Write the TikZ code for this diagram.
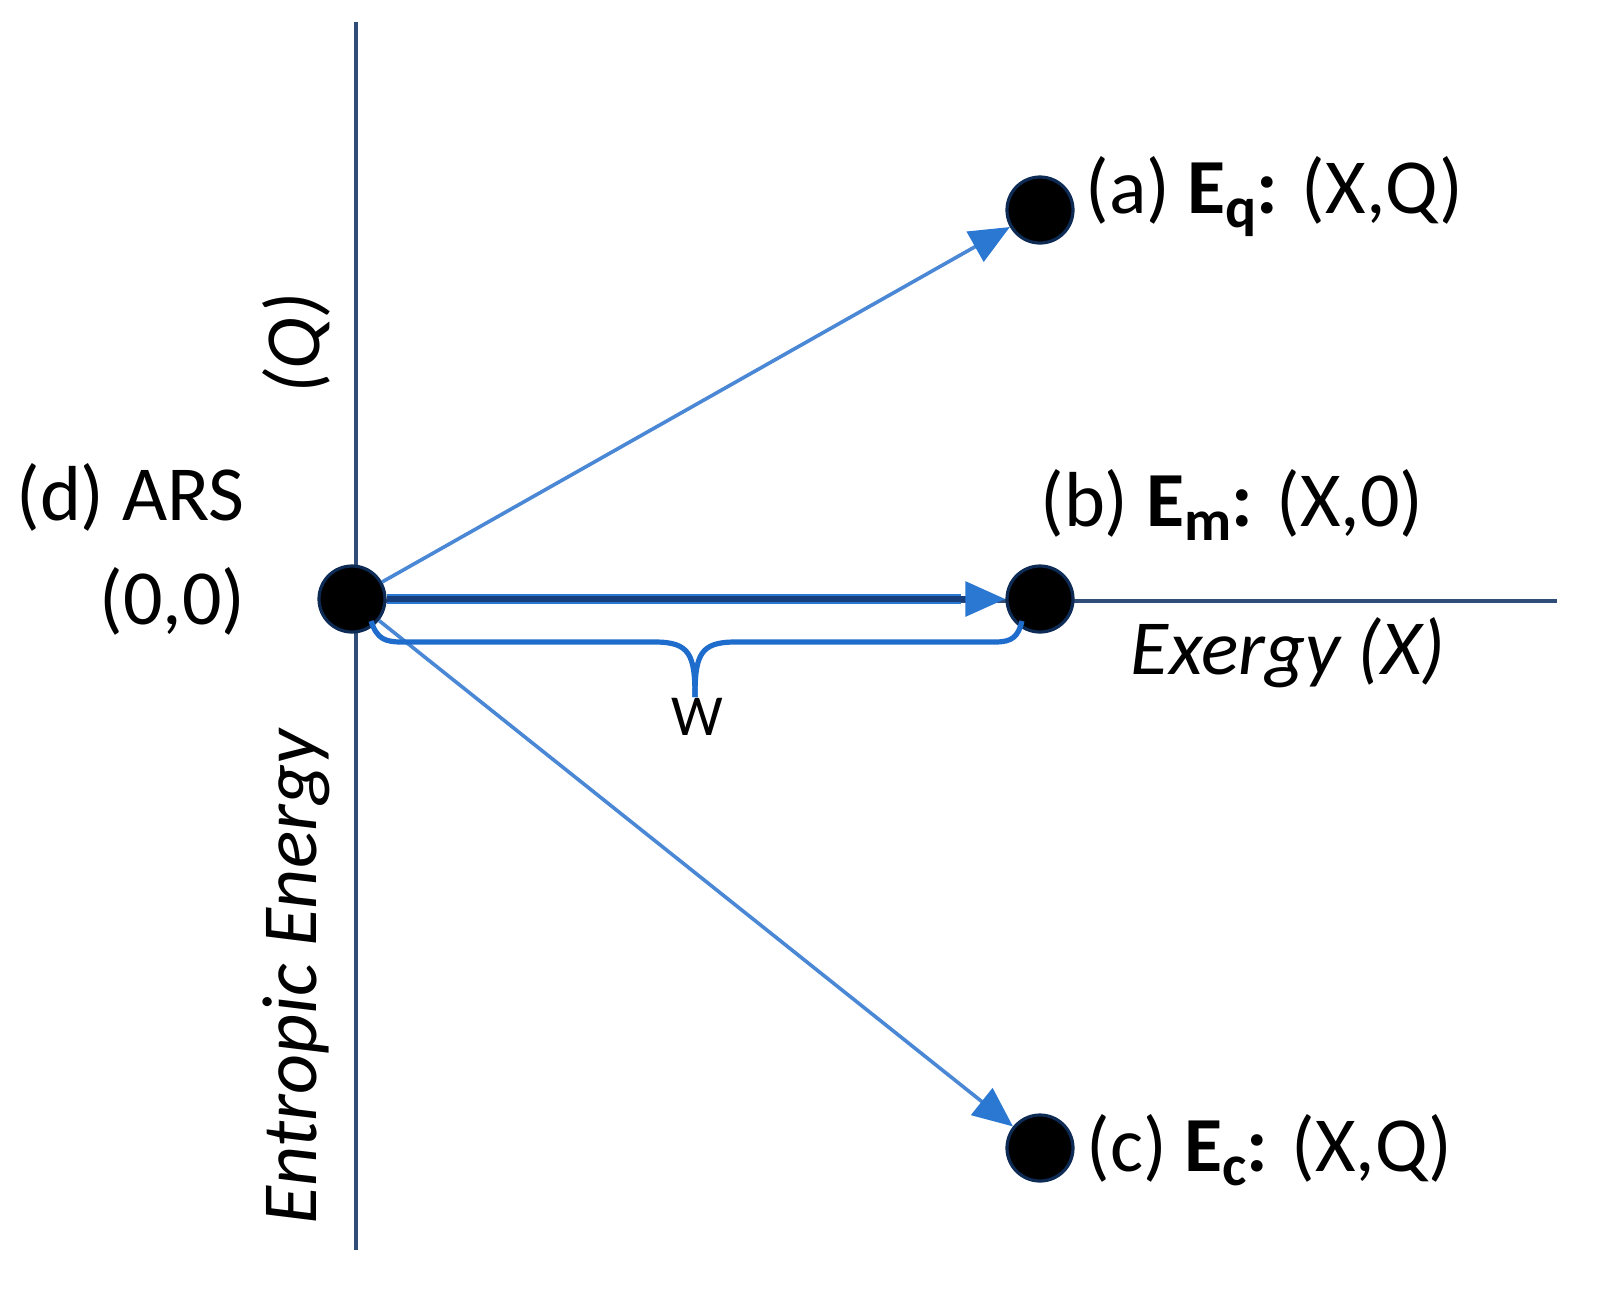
\documentclass[tikz,border=0pt]{standalone}
\usepackage{fontspec}
\setmainfont{Carlito}
\usetikzlibrary{arrows.meta}
\definecolor{axiscol}{HTML}{2F4D78}
\definecolor{arrcol}{HTML}{4A88D6}
\definecolor{headcol}{HTML}{2A78D2}
\definecolor{navy}{HTML}{163E7A}
\definecolor{bracecol}{HTML}{1E6CCB}
\definecolor{dotedge}{HTML}{0D2B55}
\newcommand{\Esub}[1]{\textbf{E}\raisebox{-0.18em}{\fontsize{29}{29}\selectfont\textbf{#1}}\textbf{:}}
\tikzset{
  axisline/.style={draw=axiscol, line width=1.7pt},
  dotnode/.style={circle, fill=black, draw=dotedge, line width=1.6pt, minimum size=33pt, inner sep=0pt},
  thinarrow/.style={draw=arrcol, line width=1.8pt, -{Triangle[length=20pt,width=17pt,color=headcol]}},
  thickarrowbg/.style={draw=headcol, line width=5pt},
  thickarrow/.style={draw=navy, line width=3pt, -{Triangle[length=20pt,width=17pt,color=headcol]}},
  bracestyle/.style={draw=bracecol, line width=2.6pt},
  lbl/.style={font=\fontsize{39}{46}\selectfont, text=black, inner sep=0pt},
  ilbl/.style={font=\fontsize{39}{46}\selectfont\itshape, text=black, inner sep=0pt},
  wlbl/.style={font=\fontsize{29}{32}\selectfont, text=black, inner sep=0pt}
}
\begin{document}
\begin{tikzpicture}[x=0.5pt,y=-0.5pt]
\useasboundingbox (0,0) rectangle (1597,1298);
% axes
\coordinate (ytop) at (356,22);
\coordinate (ybot) at (356,1250);
\coordinate (xstart) at (356,601);
\coordinate (xend) at (1557,601);
\draw[axisline] (ytop) -- (ybot);
\draw[axisline] (xstart) -- (xend);
% dots
\node[dotnode] (o) at (352,599) {};
\node[dotnode] (a) at (1040,210) {};
\node[dotnode] (b) at (1040,599) {};
\node[dotnode] (c) at (1040,1148) {};
% arrows
\draw[thinarrow] (o) -- (a);
\draw[thinarrow] (o) -- (c);
\draw[thickarrowbg] (o.east) -- ([xshift=-22pt]b.west);
\draw[thickarrow] (o) -- (b);
% brace
\coordinate (bl) at (371,621);
\coordinate (btip) at (695,697);
\coordinate (br) at (1022,621);
\draw[bracestyle] (bl) .. controls (377,639) and (385,642) .. (402,642) -- (655,642)
  .. controls (690,642) and (695,655) .. (btip);
\draw[bracestyle] (btip) .. controls (695,655) and (700,642) .. (735,642) -- (995,642)
  .. controls (1012,642) and (1018,637) .. (br);
% labels
\node[lbl, anchor=west] (la) at (1085,197) {(a) \Esub{q} (X,Q)};
\node[lbl, anchor=west] (lb) at (1040,505) {(b) \Esub{m} (X,0)};
\node[lbl, anchor=west] (lc) at (1086,1150) {(c) \Esub{c} (X,Q)};
\node[lbl, anchor=west] (ld) at (16,497) {(d) ARS};
\node[lbl, anchor=east] (l0) at (246,601) {(0,0)};
\node[wlbl] (w) at (697,717) {W};
\node[ilbl, anchor=east] (ex) at (1446,653) {Exergy (X)};
\node[ilbl, rotate=90] (q) at (296,343) {(Q)};
\node[ilbl, rotate=90] (ee) at (296,977) {Entropic Energy};
\end{tikzpicture}
\end{document}
